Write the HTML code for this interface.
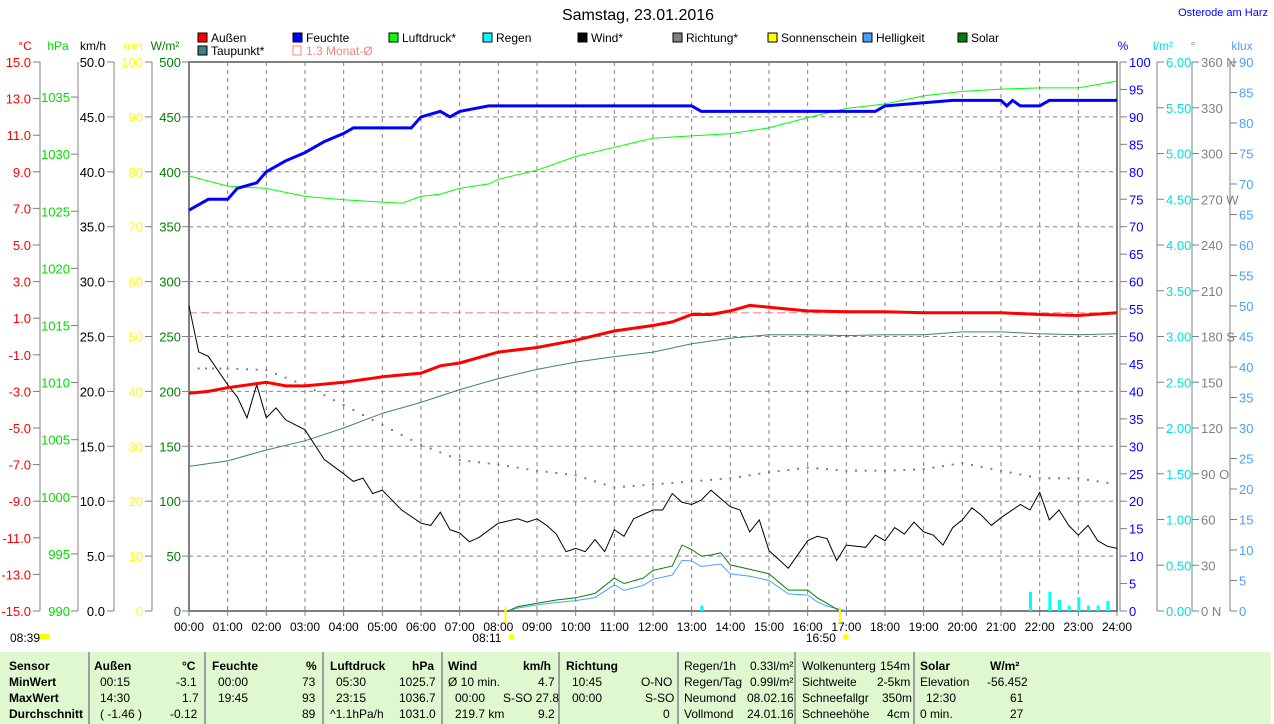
<!DOCTYPE html>
<html><head><meta charset="utf-8">
<style>
body{margin:0;background:#fff;width:1274px;height:724px;overflow:hidden;font-family:"Liberation Sans",sans-serif}
svg{position:absolute;left:0;top:0}
text{font-family:"Liberation Sans",sans-serif}
#tbl{position:absolute;left:0;top:652px;width:1271px;height:72px;background:#e0f8d0;font-size:12px}
#tbl div{position:absolute;white-space:nowrap}
.b{font-weight:bold}
.sep{position:absolute;top:0;width:2px;height:72px;background:#a0a0a0}
</style></head><body>
<svg id="chart" width="1274" height="652"></svg>
<div id="tbl">
<div class="sep" style="left:88px"></div><div class="sep" style="left:204px"></div><div class="sep" style="left:322px"></div><div class="sep" style="left:441px"></div><div class="sep" style="left:558px"></div><div class="sep" style="left:677px"></div><div class="sep" style="left:794px"></div><div class="sep" style="left:913px"></div>
<div class="b" style="left:9px;top:7px">Sensor</div><div class="b" style="left:9px;top:23px">MinWert</div><div class="b" style="left:9px;top:39px">MaxWert</div><div class="b" style="left:9px;top:55px">Durchschnitt</div>
<div class="b" style="left:94px;top:7px">Außen</div><div class="b" style="left:182px;top:7px">°C</div>
<div style="left:100px;top:23px">00:15</div><div style="left:176px;top:23px">-3.1</div>
<div style="left:100px;top:39px">14:30</div><div style="left:182px;top:39px">1.7</div>
<div style="left:100px;top:55px">( -1.46 )</div><div style="left:170px;top:55px">-0.12</div>
<div class="b" style="left:212px;top:7px">Feuchte</div><div class="b" style="left:306px;top:7px">%</div>
<div style="left:218px;top:23px">00:00</div><div style="left:302px;top:23px">73</div>
<div style="left:218px;top:39px">19:45</div><div style="left:302px;top:39px">93</div>
<div style="left:302px;top:55px">89</div>
<div class="b" style="left:330px;top:7px">Luftdruck</div><div class="b" style="left:412px;top:7px">hPa</div>
<div style="left:336px;top:23px">05:30</div><div style="left:399px;top:23px">1025.7</div>
<div style="left:336px;top:39px">23:15</div><div style="left:399px;top:39px">1036.7</div>
<div style="left:330px;top:55px">^1.1hPa/h</div><div style="left:399px;top:55px">1031.0</div>
<div class="b" style="left:448px;top:7px">Wind</div><div class="b" style="left:523px;top:7px">km/h</div>
<div style="left:448px;top:23px">Ø 10 min.</div><div style="left:538px;top:23px">4.7</div>
<div style="left:455px;top:39px">00:00</div><div style="left:503px;top:39px">S-SO 27.8</div>
<div style="left:455px;top:55px">219.7 km</div><div style="left:538px;top:55px">9.2</div>
<div class="b" style="left:566px;top:7px">Richtung</div>
<div style="left:572px;top:23px">10:45</div><div style="left:641px;top:23px">O-NO</div>
<div style="left:572px;top:39px">00:00</div><div style="left:645px;top:39px">S-SO</div>
<div style="left:663px;top:55px">0</div>
<div style="left:684px;top:7px">Regen/1h</div><div style="left:750px;top:7px">0.33l/m²</div>
<div style="left:684px;top:23px">Regen/Tag</div><div style="left:750px;top:23px">0.99l/m²</div>
<div style="left:684px;top:39px">Neumond</div><div style="left:747px;top:39px">08.02.16</div>
<div style="left:684px;top:55px">Vollmond</div><div style="left:747px;top:55px">24.01.16</div>
<div style="left:802px;top:7px">Wolkenunterg</div><div style="left:880px;top:7px">154m</div>
<div style="left:802px;top:23px">Sichtweite</div><div style="left:877px;top:23px">2-5km</div>
<div style="left:802px;top:39px">Schneefallgr</div><div style="left:882px;top:39px">350m</div>
<div style="left:802px;top:55px">Schneehöhe</div><div style="left:887px;top:55px">4cm</div>
<div class="b" style="left:920px;top:7px">Solar</div><div class="b" style="left:990px;top:7px">W/m²</div>
<div style="left:920px;top:23px">Elevation</div><div style="left:987px;top:23px">-56.452</div>
<div style="left:926px;top:39px">12:30</div><div style="left:1010px;top:39px">61</div>
<div style="left:920px;top:55px">0 min.</div><div style="left:1010px;top:55px">27</div>
</div>
<script>
// ---- data ----
const humT=[0,0.5,1,1.25,1.75,2,2.5,3,3.5,4,4.25,5,5.75,6,6.5,6.75,7,7.75,13,13.25,17.75,18,19.75,21,21.15,21.3,21.5,22,22.25,24];
const humV=[73,75,75,77,78,80,82,83.5,85.5,87,88,88,88,90,91,90,91,92,92,91,91,92,93,93,92,93,92,92,93,93];
const presT=[0,1,2,3,4,5,5.5,6,6.5,7,7.75,8,9,10,11,12,13,14,15,16,17,18,19,20,21,22,23,23.5,24];
const presV=[1028.1,1027.2,1027.0,1026.3,1026.0,1025.8,1025.7,1026.3,1026.5,1027.0,1027.4,1027.8,1028.6,1029.8,1030.6,1031.4,1031.6,1031.8,1032.3,1033.2,1034.0,1034.4,1035.1,1035.5,1035.7,1035.8,1035.8,1036.1,1036.4];
const tempT=[0,0.5,1,2,2.5,3,4,5,6,6.5,7,8,9,10,11,12,12.5,13,13.5,14,14.5,15,15.5,16,17,18,19,20,21,22,23,24];
const tempV=[-3.1,-3.0,-2.8,-2.5,-2.7,-2.7,-2.5,-2.2,-2.0,-1.6,-1.45,-0.85,-0.6,-0.2,0.3,0.6,0.8,1.2,1.2,1.4,1.7,1.6,1.5,1.4,1.35,1.35,1.3,1.3,1.3,1.2,1.15,1.3];
const dewT=[0,1,2,3,4,5,6,7,8,9,10,11,12,13,14,15,16,17,18,19,20,21,22,23,24];
const dewV=[-7.1,-6.8,-6.2,-5.7,-5.0,-4.2,-3.6,-2.9,-2.3,-1.8,-1.4,-1.1,-0.85,-0.4,-0.1,0.1,0.1,0.05,0.1,0.1,0.25,0.25,0.15,0.1,0.15];
const monthAvg=1.3;
const windT=[0,0.25,0.5,1,1.25,1.5,1.75,2,2.25,2.5,3,3.5,4,4.25,4.5,4.75,5,5.5,6,6.25,6.5,6.75,7,7.25,7.5,8,8.5,8.75,9,9.25,9.5,9.75,10,10.25,10.5,10.75,11,11.25,11.5,12,12.25,12.5,12.75,13,13.25,13.5,14,14.25,14.5,14.75,15,15.5,16,16.25,16.5,16.75,17,17.5,17.75,18,18.25,18.5,18.75,19,19.25,19.5,19.75,20,20.25,20.5,20.75,21,21.5,21.75,22,22.25,22.5,22.75,23,23.25,23.5,23.75,24];
const windV=[27.8,23.6,23.2,20.6,19.5,17.6,20.6,17.6,18.5,17.4,16.5,13.8,12.5,11.8,12.1,10.7,11.0,9.2,8.0,7.8,9.0,7.4,7.1,6.3,6.7,8.0,8.4,8.1,8.4,7.8,7.0,5.4,5.7,5.4,6.5,5.4,7.4,6.8,8.4,9.2,9.2,10.7,9.9,9.7,10.1,11.0,9.5,9.2,7.2,8.3,5.5,3.9,6.4,6.8,6.6,4.6,6.0,5.8,6.9,6.4,7.6,7.0,8.1,7.2,6.9,6.0,7.6,8.3,9.4,8.7,7.8,8.5,9.7,9.2,10.8,8.3,9.2,7.8,6.9,7.8,6.4,5.9,5.7];
const dirT=[0.25,1,2,3,4,5,6,7,8,9,10,11,12,13,14,15,16,17,18,19,20,21,22,23,24];
const dirV=[159,159,158,148,135,122,109,99,96,92,89,81,83,85,87,91,94,92,92,93,97,92,87,87,83];
const solT=[8.25,8.5,9,9.5,10,10.5,11,11.25,11.75,12,12.5,12.75,13,13.25,13.5,13.75,14,14.5,15,15.5,16,16.25,16.5,16.83];
const solV=[0,4,7,10,12,16,30,25,30,37,41,60,56,50,51,53,42,38,34,19,19,12,7,0];
const helT=[8.25,8.5,9,9.5,10,10.5,11,11.25,11.75,12,12.5,12.75,13,13.25,13.5,13.75,14,14.5,15,15.5,16,16.25,16.5,17];
const helV=[0,0.5,1.0,1.4,1.7,2.2,4.3,3.4,4.2,5.2,5.9,8.3,8.2,7.3,7.5,7.7,6.1,5.7,5.0,2.8,2.6,1.5,0.8,0];
const rainT=[13.25,21.75,22.25,22.5,22.75,23,23.25,23.5,23.75];
const rainV=[0.06,0.21,0.21,0.12,0.06,0.15,0.06,0.06,0.11];
const xHours=[0,1,2,3,4,5,6,7,8,9,10,11,12,13,14,15,16,17,18,19,20,21,22,23,24];

// ---- geometry ----
const X0=189,X1=1117,YT=62,YB=611;
const svg=document.getElementById('chart');
const NS='http://www.w3.org/2000/svg';
const xs=h=>X0+(X1-X0)*h/24;
const lin=(lo,hi)=>v=>YB-(YB-YT)*(v-lo)/(hi-lo);
const yW=lin(0,500),yC=lin(-15,15),yP=lin(990,1038.07),yK=lin(0,50),yM=lin(0,100),yH=lin(0,100),yR=lin(0,6),yD=lin(0,360),yL=lin(0,90);
function el(tag,attrs,txt){const e=document.createElementNS(NS,tag);for(const k in attrs)e.setAttribute(k,attrs[k]);if(txt!==undefined)e.textContent=txt;svg.appendChild(e);return e;}
function txt(x,y,s,color,anchor,size){const t=el('text',{x:x,y:y,fill:color,'text-anchor':anchor||'start',style:'font-size:'+(size||12)+'px'},s);return t;}

// grid
for(let i=1;i<24;i++){const g=el('line',{x1:xs(i),x2:xs(i),y1:YT,y2:YB,stroke:'#808080','stroke-dasharray':'4,4'});}
for(let v=50;v<500;v+=50){const g=el('line',{x1:X0,x2:X1,y1:yW(v),y2:yW(v),stroke:'#808080','stroke-dasharray':'4,4'});}
const fr=el('rect',{x:X0,y:YT,width:X1-X0,height:YB-YT,fill:'none',stroke:'#808080','stroke-width':2});


// axes
function axis(ax,lo,hi,step,scale,color,fmt,right){
  const l=el('line',{x1:ax,x2:ax,y1:YT,y2:YB,stroke:'#808080'});
  
  for(let v=lo;v<=hi+1e-9;v+=step){const y=scale(v);
    el('line',{x1:right?ax:ax-7,x2:right?ax+7:ax,y1:y,y2:y,stroke:'#808080'});
    if(right)txt(ax+9,y+5,fmt(v),color,'start',13);else txt(ax-9,y+5,fmt(v),color,'end',13);}
}
axis(40,-15,15,2,yC,'#ff0000',v=>v.toFixed(1));
(function(){const l=el('line',{x1:78,x2:78,y1:YT,y2:YB,stroke:'#808080'});
 for(let v=990;v<=1035;v+=5){const y=yP(v);el('line',{x1:71,x2:78,y1:y,y2:y,stroke:'#808080'});txt(70,y+5,String(v),'#00dd00','end',13);}})();
axis(114,0,50,5,yK,'#000',v=>v.toFixed(1));
axis(152,0,100,10,yM,'#ffff00',v=>String(v));
(function(){for(let v=0;v<=500;v+=50){const y=yW(v);el('line',{x1:182,x2:189,y1:y,y2:y,stroke:'#808080'});txt(181,y+5,String(v),'#008000','end',13);}})();
axis(1120,0,100,5,yH,'#0000ff',v=>String(v),true);
axis(1157,0,6,0.5,yR,'#00e0e0',v=>v.toFixed(2),true);
axis(1192,0,360,30,yD,'#808080',v=>String(v)+(v==360?' N':v==270?' W':v==180?' S':v==90?' O':v==0?' N':''),true);
axis(1230,0,90,5,yL,'#4aa0ff',v=>String(v),true);
[['°C',25,'#ff0000'],['hPa',58,'#00dd00'],['km/h',93,'#000'],['min',133,'#ffff00'],['W/m²',165,'#008000'],['%',1123,'#0000ff'],['l/m²',1163,'#00e0e0'],['°',1193,'#808080'],['klux',1242,'#4aa0ff']].forEach(u=>txt(u[1],50,u[0],u[2],'middle',12));

// x labels
xHours.forEach(h=>{el('line',{x1:xs(h),x2:xs(h),y1:YB,y2:YB+5,stroke:'#808080'});txt(xs(h),631,(h<10?'0':'')+h+':00','#000','middle',12);});

// title & legend
txt(638,20,'Samstag, 23.01.2016','#000','middle',16);
txt(1268,16,'Osterode am Harz','#0000ff','end',11);
const leg=[['Außen','#ff0000',198,38],['Feuchte','#0000ff',293,38],['Luftdruck*','#00ff00',389,38],['Regen','#00ffff',483,38],['Wind*','#000000',578,38],['Richtung*','#808080',673,38],['Sonnenschein','#ffff00',768,38],['Helligkeit','#4aa0ff',863,38],['Solar','#008000',958,38],['Taupunkt*','#408080',198,51]];
leg.forEach(l=>{const r=el('rect',{x:l[2],y:l[3]-5,width:9,height:9,fill:l[1],stroke:'#000'});txt(l[2]+13,l[3]+4,l[0],'#000','start',12);});
el('rect',{x:293,y:46,width:8,height:9,fill:'none',stroke:'#ff8080'});txt(306,55,'1.3 Monat-Ø','#ff8080','start',12);

// series
function line(T,V,ys,color,w,name,dash){const p=T.map((t,i)=>xs(t).toFixed(1)+','+ys(V[i]).toFixed(1)).join(' ');
  const e=el('polyline',{points:p,fill:'none',stroke:color,'stroke-width':w});if(dash)e.setAttribute('stroke-dasharray',dash);
  }
const ma=el('line',{x1:X0,x2:X1,y1:yC(monthAvg),y2:yC(monthAvg),stroke:'#ff8080','stroke-dasharray':'8,4'});

rainT.forEach((t,i)=>{const r=el('rect',{x:xs(t)-1,y:yR(rainV[i]),width:3,height:YB-yR(rainV[i]),fill:'#00ffff'});});
(function(){for(let k=0;k<dirT.length-1;k++){for(let s=0;s<4;s++){const f=s/4;const t=dirT[k]+(dirT[k+1]-dirT[k])*f;const v=dirV[k]+(dirV[k+1]-dirV[k])*f;
 const d=el('rect',{x:xs(t)-1,y:yD(v)-1,width:2,height:2,fill:'#808080'});}}})();
line(helT,helV,yL,'#4aa0ff',1,'brightness-line');
line(solT,solV,yW,'#008000',1,'solar-line');
line(dewT,dewV,yC,'#408080',1,'dewpoint-line');
line(presT,presV,yP,'#00ff00',1,'pressure-line');
line(windT,windV,yK,'#000000',1,'wind-line');
line(tempT,tempV,yC,'#ff0000',3,'temperature-line');
line(humT,humV,yH,'#0000ff',3,'humidity-line');
[[8+11/60,'08:11'],[16+50/60,'16:50']].forEach(s=>{el('line',{x1:xs(s[0]),x2:xs(s[0]),y1:YB-4,y2:YB+12,stroke:'#ffff00','stroke-width':2});txt(xs(s[0])-4,642,s[1],'#000','end',12);el('circle',{cx:xs(s[0])+6,cy:637,r:3,fill:'#ffff00'});});
txt(10,642,'08:39','#000','start',12);el('rect',{x:40,y:634,width:9,height:5,fill:'#ffff00'});
</script>
</body></html>
